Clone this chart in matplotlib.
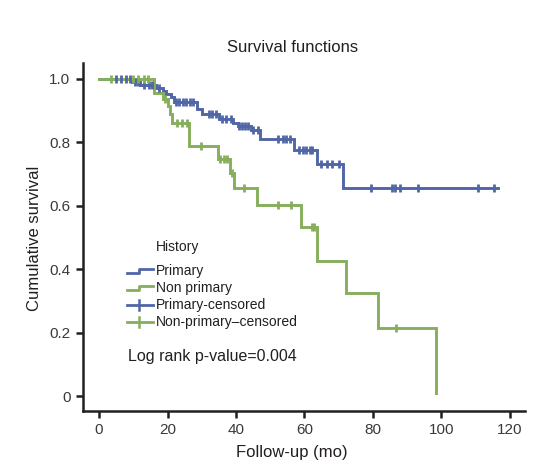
import matplotlib
matplotlib.use("Agg")
import matplotlib.pyplot as plt
from matplotlib.lines import Line2D
import numpy as np

plt.rcParams['font.family'] = ['Liberation Sans', 'DejaVu Sans']

# ---- data ----
primary_times = [0, 9.5, 12.0, 16.5, 18.6, 19.7, 20.9, 21.9, 28.7, 30.0, 35.1, 39.0,
                 40.5, 44.4, 46.9, 57.1, 63.8, 71.2]
primary_surv = [1.0, 0.99, 0.98, 0.972, 0.962, 0.952, 0.942, 0.928, 0.905, 0.89, 0.873,
                0.86, 0.85, 0.838, 0.81, 0.776, 0.732, 0.655]
primary_end = 116.5
primary_censor = [5, 6.5, 8.0, 9.0, 10.5, 11.5, 13.0, 14.5, 15.5, 17.5, 22.5, 23.5, 24.5,
                  25.5, 26.5, 27.5, 32.2, 33.1, 34.1, 36.0, 37.0, 38.5, 41.0, 41.8, 42.6,
                  43.4, 45.0, 46.4, 52.3, 53.7, 54.7, 55.7, 58.5, 59.6, 60.6, 61.6, 62.1,
                  65.0, 66.5, 68.0, 70.1, 79.5, 85.6, 86.6, 88.0, 93.2, 110.9, 115.5]

nonprimary_times = [0, 16.0, 18.7, 20.0, 20.8, 21.4, 26.2, 34.9, 38.2, 39.3, 46.2, 58.9,
                    63.8, 72.2, 81.5, 98.5]
nonprimary_surv = [1.0, 0.955, 0.935, 0.915, 0.89, 0.862, 0.789, 0.748, 0.704, 0.656,
                   0.603, 0.534, 0.427, 0.324, 0.215, 0.01]
nonprimary_end = 98.5
nonprimary_censor = [3.4, 10.0, 11.5, 13.0, 14.3, 19.3, 22.8, 24.3, 25.8, 29.8, 35.2,
                     36.4, 37.5, 38.8, 42.5, 52.4, 56.0, 62.2, 62.9, 86.9]

x_ticks = [0, 20, 40, 60, 80, 100, 120]
y_ticks = [0, 0.2, 0.4, 0.6, 0.8, 1.0]
y_ticklabels = ['0', '0.2', '0.4', '0.6', '0.8', '1.0']

BLUE = '#5066a6'
GREEN = '#86ae5c'
TXT = '#231f20'

W, H = 554, 466
fig = plt.figure(figsize=(W / 100, H / 100), dpi=100)
ax = fig.add_axes([83 / W, 1 - 411 / H, (525 - 83) / W, (411 - 63) / H])


def step_xy(times, surv, end):
    xs = list(times) + [end]
    ys = list(surv) + [surv[-1]]
    return xs, ys


def surv_at(times, surv, t):
    idx = np.searchsorted(np.asarray(times), t, side='right') - 1
    return np.asarray(surv)[idx]


for times, surv, end, cens, col in [
        (primary_times, primary_surv, primary_end, primary_censor, BLUE),
        (nonprimary_times, nonprimary_surv, nonprimary_end, nonprimary_censor, GREEN)]:
    xs, ys = step_xy(times, surv, end)
    ax.step(xs, ys, where='post', color=col, lw=2.1, solid_joinstyle='miter', zorder=3)
    cy = [surv_at(times, surv, t) for t in cens]
    ax.plot(cens, cy, ls='none', marker='|', ms=6, mew=2.0, color=col, zorder=4)

ax.set_xlim(-4.7, 124.5)
ax.set_ylim(-0.047, 1.05)
ax.set_xticks(x_ticks)
ax.set_yticks(y_ticks)
ax.set_yticklabels(y_ticklabels)
for s in ['top', 'right']:
    ax.spines[s].set_visible(False)
for s in ['left', 'bottom']:
    ax.spines[s].set_linewidth(1.8)
    ax.spines[s].set_color(TXT)
ax.tick_params(axis='both', direction='out', length=5, width=1.8, color=TXT,
               labelsize=11, labelcolor='#3a3a3a', pad=4)


def fx(px):
    return px / W


def fy(py):
    return 1 - py / H


fig.text(fx(293), fy(47), 'Survival functions', fontsize=12, ha='center', va='center',
         color=TXT)
fig.text(fx(292), fy(452), 'Follow-up (mo)', fontsize=12, ha='center', va='center',
         color=TXT)
fig.text(fx(35), fy(238), 'Cumulative survival', fontsize=12, ha='center', va='center',
         rotation=90, color=TXT)

# ---- manual legend ----
tf = fig.transFigure
fig.text(fx(156), fy(247), 'History', fontsize=10, va='center', ha='left', color=TXT)
labels = ['Primary', 'Non primary', 'Primary-censored', 'Non-primary\u2013censored']
rows = [271, 288, 305, 322]
cols = [BLUE, GREEN, BLUE, GREEN]
for i, (lab, ry, c) in enumerate(zip(labels, rows, cols)):
    if i < 2:
        fig.add_artist(Line2D([fx(127), fx(139), fx(139), fx(153)],
                              [fy(ry + 2), fy(ry + 2), fy(ry - 2), fy(ry - 2)],
                              transform=tf, color=c, lw=2.0))
    else:
        fig.add_artist(Line2D([fx(127), fx(153)], [fy(ry), fy(ry)],
                              transform=tf, color=c, lw=2.0))
        fig.add_artist(Line2D([fx(139), fx(139)], [fy(ry - 5), fy(ry + 5)],
                              transform=tf, color=c, lw=1.8))
    fig.text(fx(156), fy(ry), lab, fontsize=10, va='center', ha='left', color=TXT)

fig.text(fx(128), fy(357), 'Log rank p-value=0.004', fontsize=11.5, va='center',
         ha='left', color=TXT)

fig.savefig('out.png', dpi=100)
